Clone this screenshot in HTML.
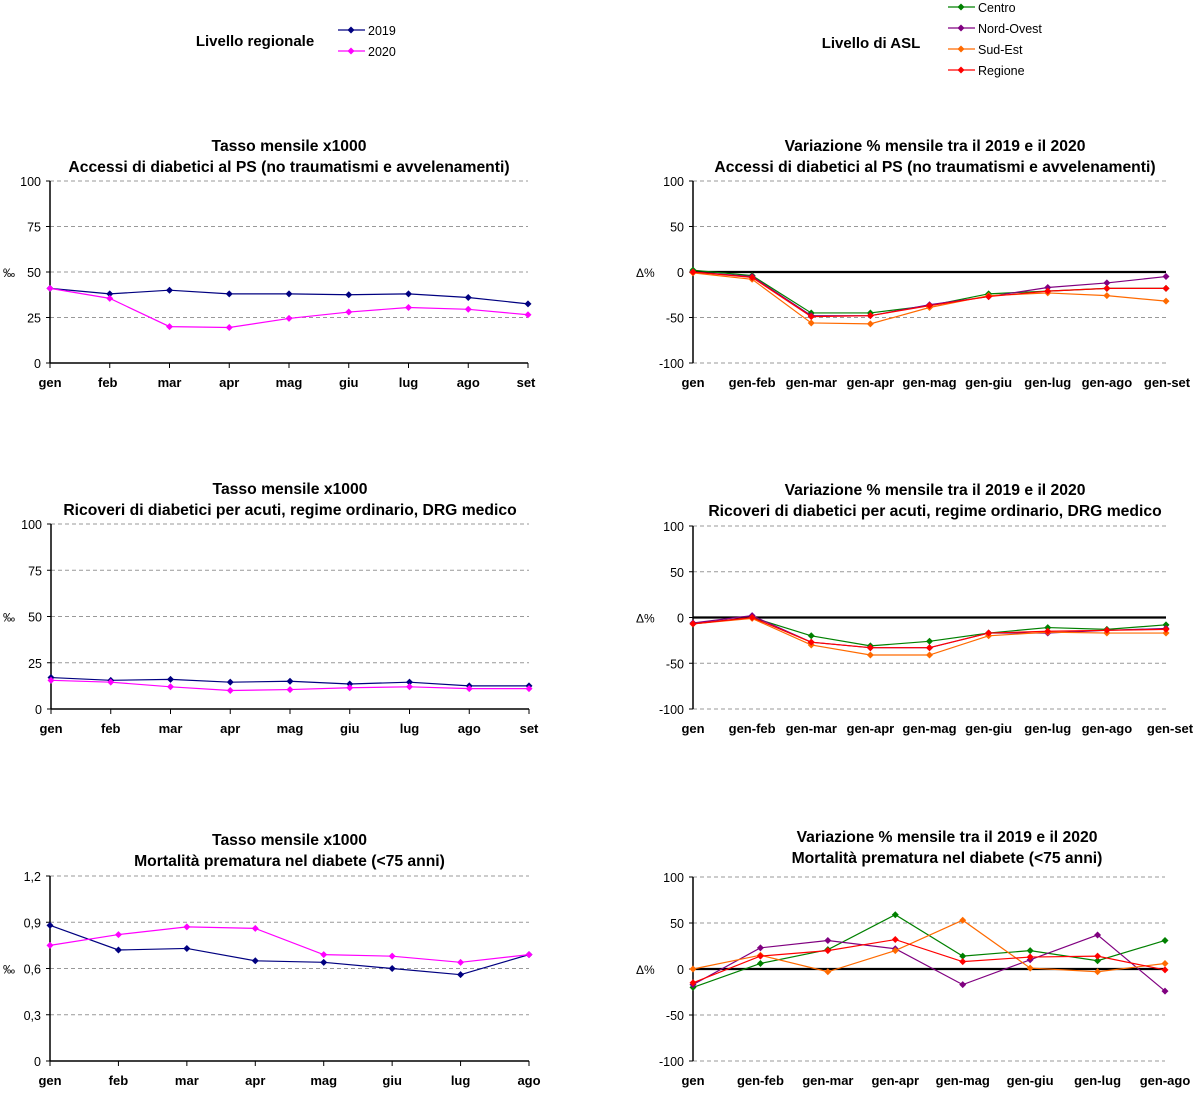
<!DOCTYPE html>
<html><head><meta charset="utf-8"><style>
html,body{margin:0;padding:0;background:#fff;width:1200px;height:1096px;overflow:hidden}
svg{display:block;font-family:"Liberation Sans",Arial,sans-serif}
</style></head><body>
<svg id="s" width="1200" height="1096" xmlns="http://www.w3.org/2000/svg">
<text x="255" y="46" font-size="15" font-weight="bold" text-anchor="middle">Livello regionale</text>
<text x="871" y="48" font-size="15" font-weight="bold" text-anchor="middle">Livello di ASL</text>
</svg>
<script>
var s=document.getElementById('s'),h='';
function t(x,y,str,sz,b,anc){h+='<text x="'+x+'" y="'+y+'" font-size="'+sz+'"'+(b?' font-weight="bold"':'')+' text-anchor="'+(anc||'start')+'">'+str+'</text>';}
function dia(x,y,c){h+='<path d="M'+x+' '+(y-3.5)+'L'+(x+3.5)+' '+y+'L'+x+' '+(y+3.5)+'L'+(x-3.5)+' '+y+'Z" fill="'+c+'"/>';}
function leg(x,y,c,l){h+='<line x1="'+x+'" y1="'+y+'" x2="'+(x+27)+'" y2="'+y+'" stroke="'+c+'" stroke-width="1.3"/>';dia(x+13,y,c);t(x+30,y+5,l,12.5);}
leg(338,30,'#000080','2019');leg(338,51,'#ff00ff','2020');
leg(948,7,'#008000','Centro');leg(948,28,'#800080','Nord-Ovest');leg(948,49,'#ff6a00','Sud-Est');leg(948,70,'#ff0000','Regione');
function chart(o){
 var x0=o.x0,x1=o.x1,n=o.labels.length,st=(x1-x0)/(n-1);
 function Y(v){return o.yb+(v-o.vmin)/(o.vmax-o.vmin)*(o.yt-o.yb);}
 var tc=o.tc||(x0+x1)/2;
 t(tc,o.ty,o.t1,15.7,1,'middle');t(tc,o.ty+21,o.t2,15.7,1,'middle');
 o.ticks.forEach(function(v,i){var y=Y(v);
  if(!(o.delta&&v==0)&&v!=o.vmin||o.delta&&v==o.vmin) h+='<line x1="'+x0+'" y1="'+y+'" x2="'+x1+'" y2="'+y+'" stroke="#999" stroke-dasharray="4,3"/>';
  h+='<line x1="'+(x0-4)+'" y1="'+y+'" x2="'+x0+'" y2="'+y+'" stroke="#000"/>';
  t(x0-9,y+5,o.tl?o.tl[i]:v,12.5,0,'end');});
 t(o.delta?636:3,Y((o.vmin+o.vmax)/2)+5,o.delta?'Δ%':'‰',12,0,'start');
 h+='<line x1="'+x0+'" y1="'+o.yt+'" x2="'+x0+'" y2="'+o.yb+'" stroke="#000" stroke-width="1.5"/>';
 if(o.delta){h+='<line x1="'+x0+'" y1="'+Y(0)+'" x2="'+x1+'" y2="'+Y(0)+'" stroke="#000" stroke-width="2.2"/>';}
 else{h+='<line x1="'+x0+'" y1="'+o.yb+'" x2="'+x1+'" y2="'+o.yb+'" stroke="#000" stroke-width="1.5"/>';
  for(var i=0;i<n;i++)h+='<line x1="'+(x0+i*st)+'" y1="'+o.yb+'" x2="'+(x0+i*st)+'" y2="'+(o.yb+5)+'" stroke="#000"/>';}
 o.labels.forEach(function(l,i){t(x0+i*st+(o.lo?o.lo[i]:0),o.yb+24,l,13,1,'middle');});
 o.series.forEach(function(se){var p=se.d.map(function(v,i){return (x0+i*st)+','+Y(v);}).join(' ');
  h+='<polyline points="'+p+'" fill="none" stroke="'+se.c+'" stroke-width="1.2"/>';
  se.d.forEach(function(v,i){dia(x0+i*st,Y(v),se.c);});});
}
var m9=['gen','feb','mar','apr','mag','giu','lug','ago','set'];
var g9=['gen','gen-feb','gen-mar','gen-apr','gen-mag','gen-giu','gen-lug','gen-ago','gen-set'];
var C='#008000',P='#800080',O='#ff6a00',R='#ff0000',B='#000080',M='#ff00ff';
chart({x0:50,x1:528,yt:181,yb:363,vmin:0,vmax:100,ticks:[0,25,50,75,100],ty:151,t1:'Tasso mensile x1000',t2:'Accessi di diabetici al PS (no traumatismi e avvelenamenti)',labels:m9,lo:[0,-2,0,0,0,0,0,0,-2],
 series:[{c:B,d:[41,38,40,38,38,37.5,38,36,32.5]},{c:M,d:[41,35.5,20,19.5,24.5,28,30.5,29.5,26.5]}]});
chart({x0:693,x1:1166,tc:935,yt:181,yb:363,vmin:-100,vmax:100,delta:1,ticks:[-100,-50,0,50,100],ty:151,t1:'Variazione % mensile tra il 2019 e il 2020',t2:'Accessi di diabetici al PS (no traumatismi e avvelenamenti)',labels:g9,lo:[0,0,0,0,0,0,0,0,1],
 series:[{c:C,d:[2,-4,-45,-45,-37,-24,-21,-18,-18]},{c:P,d:[0,-5,-48,-48,-36,-27,-17,-12,-5]},{c:O,d:[-1,-8,-56,-57,-39,-26,-23,-26,-32]},{c:R,d:[0,-6,-49,-48,-37,-27,-21,-18,-18]}]});
chart({x0:51,x1:529,yt:524,yb:709,vmin:0,vmax:100,ticks:[0,25,50,75,100],ty:494,t1:'Tasso mensile x1000',t2:'Ricoveri di diabetici per acuti, regime ordinario, DRG medico',labels:m9,
 series:[{c:B,d:[17,15.5,16,14.5,15,13.5,14.5,12.5,12.5]},{c:M,d:[15.5,14.5,12,10,10.5,11.5,12,11,11]}]});
chart({x0:693,x1:1166,tc:935,yt:526,yb:709,vmin:-100,vmax:100,delta:1,ticks:[-100,-50,0,50,100],ty:495,t1:'Variazione % mensile tra il 2019 e il 2020',t2:'Ricoveri di diabetici per acuti, regime ordinario, DRG medico',labels:g9,lo:[0,0,0,0,0,0,0,0,4],
 series:[{c:C,d:[-7,0,-20,-31,-26,-17,-11,-13,-8]},{c:P,d:[-6,2,-27,-33,-33,-17,-17,-14,-12]},{c:O,d:[-7,-1,-30,-41,-41,-20,-16,-17,-17]},{c:R,d:[-7,0,-27,-33,-33,-17,-15,-14,-13]}]});
chart({x0:50,x1:529,yt:876,yb:1061,vmin:0,vmax:1.2,ticks:[0,0.3,0.6,0.9,1.2],tl:['0','0,3','0,6','0,9','1,2'],ty:845,t1:'Tasso mensile x1000',t2:'Mortalità prematura nel diabete (&lt;75 anni)',labels:m9.slice(0,8),
 series:[{c:B,d:[.88,.72,.73,.65,.64,.6,.56,.69]},{c:M,d:[.75,.82,.87,.86,.69,.68,.64,.69]}]});
chart({x0:693,x1:1165,tc:947,yt:877,yb:1061,vmin:-100,vmax:100,delta:1,ticks:[-100,-50,0,50,100],ty:842,t1:'Variazione % mensile tra il 2019 e il 2020',t2:'Mortalità prematura nel diabete (&lt;75 anni)',labels:g9.slice(0,8),
 series:[{c:C,d:[-20,6,21,59,14,20,9,31]},{c:P,d:[-17,23,31,22,-17,10,37,-24]},{c:O,d:[0,15,-3,20,53,1,-3,6]},{c:R,d:[-15,14,20,32,8,13,14,-1]}]});
s.insertAdjacentHTML('beforeend',h);
</script>
</body></html>
